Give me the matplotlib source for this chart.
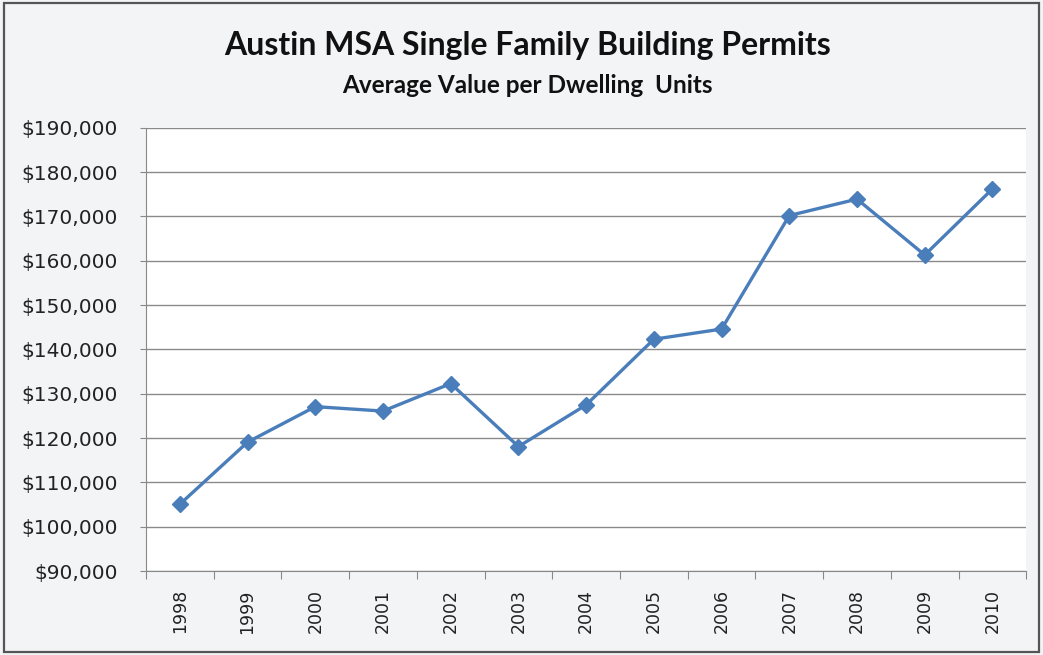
import numpy as np
import matplotlib.pyplot as plt
from matplotlib.patches import Rectangle

# Data #
years = ['1998', '1999', '2000', '2001', '2002', '2003', '2004',
         '2005', '2006', '2007', '2008', '2009', '2010']
avg_value = [105100, 119100, 127100, 126100, 132300, 118100, 127500,
             142300, 144600, 170200, 173900, 161300, 176200]
y_ticks = np.arange(90000, 190001, 10000)

# Figure #
fig = plt.figure(figsize=(10.43, 6.55), dpi=100)
fig.patch.set_facecolor('#f3f4f5')
fig.patches.append(Rectangle((0.004, 0.004), 0.992, 0.992, transform=fig.transFigure,
                             fill=False, edgecolor='#555555', lw=1.6))

ax = fig.add_axes([0.140, 0.128, 0.844, 0.677])
ax.set_facecolor('white')

x = np.arange(len(years))
ax.plot(x, avg_value, '-', color='#4a7ebb', lw=2.4, marker='D', markersize=8,
        markerfacecolor='#4a7ebb', markeredgecolor='#4a7ebb', zorder=3)

ax.set_xlim(-0.5, len(years) - 0.5)
ax.set_ylim(90000, 190000)

# Category ticks between points, labels at points
ax.set_xticks(np.arange(-0.5, len(years)), minor=False)
ax.set_xticklabels([])
ax.set_xticks(x, minor=True)
ax.set_xticklabels(years, minor=True, rotation=90, fontsize=12.5, color='#222222')
ax.tick_params(axis='x', which='major', length=6, color='#888888', direction='out')
ax.tick_params(axis='x', which='minor', length=0, pad=13)

ax.set_yticks(y_ticks)
ax.set_yticklabels(['${:,.0f}'.format(v) for v in y_ticks], fontsize=14.5, color='#222222')
ax.tick_params(axis='y', length=4.5, color='#888888', direction='out', pad=16)

ax.grid(True, axis='y', color='#8a8a8a', lw=1)
ax.set_axisbelow(True)
for side in ['top', 'right']:
    ax.spines[side].set_visible(False)
ax.spines['left'].set_color('#888888')
ax.spines['bottom'].set_color('#888888')

fig.text(0.506, 0.930, 'Austin MSA Single Family Building Permits', ha='center', va='center',
         fontsize=23, fontweight='bold', family='Lato', color='#111111')
fig.text(0.506, 0.870, 'Average Value per Dwelling  Units', ha='center', va='center',
         fontsize=17.5, fontweight='bold', family='Lato', color='#111111')

plt.savefig('out.png', dpi=100, facecolor=fig.get_facecolor())
